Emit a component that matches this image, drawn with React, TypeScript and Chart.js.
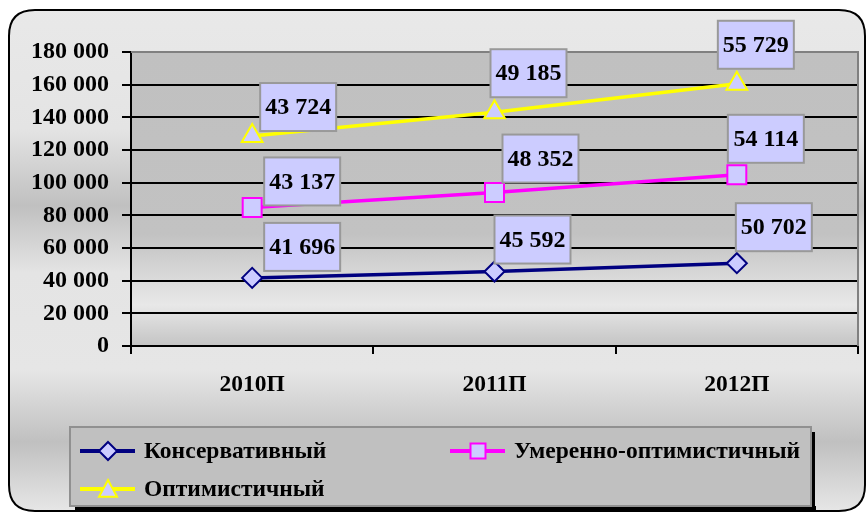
import React, { useEffect, useRef } from 'react';
import { Chart, registerables } from 'chart.js';

Chart.register(...registerables);

const categories = ['2010П', '2011П', '2012П'];
const seriesNames = ['Консервативный', 'Умеренно-оптимистичный', 'Оптимистичный'];
const conservative = [41696, 45592, 50702];
const moderate = [43137, 48352, 54114];
const optimistic = [43724, 49185, 55729];
const yMin = 0;
const yMax = 180000;
const yStep = 20000;

// label box offsets (box left relative to point x, box bottom relative to point y)
const labelOffsets = [
  [[12, -7], [0, -8], [-1, -12]],
  [[12, -2], [8, -10], [-9, -12]],
  [[8, -5], [-4, -15], [-19, -15]],
];

const FONT = '"Liberation Serif", "Times New Roman", serif';
const fmt = (n: number) => String(n).replace(/\B(?=(\d{3})+(?!\d))/g, ' ');

function markerPath(ctx: CanvasRenderingContext2D, style: string, x: number, y: number, r: number) {
  ctx.beginPath();
  if (style === 'rectRot') {
    ctx.moveTo(x, y - r);
    ctx.lineTo(x + r, y);
    ctx.lineTo(x, y + r);
    ctx.lineTo(x - r, y);
    ctx.closePath();
  } else if (style === 'rect') {
    ctx.rect(x - r, y - r, 2 * r, 2 * r);
  } else {
    ctx.moveTo(x, y - r);
    ctx.lineTo(x + r, y + r * 0.85);
    ctx.lineTo(x - r, y + r * 0.85);
    ctx.closePath();
  }
}

const bgPlugin = {
  id: 'bgPlugin',
  beforeDraw(chart: any) {
    const { ctx, chartArea, width, height } = chart;
    ctx.save();
    const g = ctx.createLinearGradient(0, 0, 0, height);
    g.addColorStop(0, '#e9e9e9');
    g.addColorStop(0.25, '#e4e4e4');
    g.addColorStop(0.4, '#c0c0c0');
    g.addColorStop(0.53, '#e4e4e4');
    g.addColorStop(0.72, '#e6e6e6');
    g.addColorStop(0.86, '#c0c0c0');
    g.addColorStop(1, '#e8e8e8');
    const x0 = 9, y0 = 10, x1 = width - 1, y1 = height - 3, r = 26;
    ctx.beginPath();
    ctx.moveTo(x0 + r, y0);
    ctx.lineTo(x1 - r, y0);
    ctx.quadraticCurveTo(x1, y0, x1, y0 + r);
    ctx.lineTo(x1, y1 - r);
    ctx.quadraticCurveTo(x1, y1, x1 - r, y1);
    ctx.lineTo(x0 + r, y1);
    ctx.quadraticCurveTo(x0, y1, x0, y1 - r);
    ctx.lineTo(x0, y0 + r);
    ctx.quadraticCurveTo(x0, y0, x0 + r, y0);
    ctx.closePath();
    ctx.fillStyle = g;
    ctx.fill();
    ctx.lineWidth = 2;
    ctx.strokeStyle = '#000';
    ctx.stroke();

    const { left, top, right, bottom } = chartArea;
    const pg = ctx.createLinearGradient(0, top, 0, bottom);
    pg.addColorStop(0, '#c0c0c0');
    pg.addColorStop(0.62, '#c2c2c2');
    pg.addColorStop(0.86, '#e8e8e8');
    pg.addColorStop(1, '#c4c4c4');
    ctx.fillStyle = pg;
    ctx.fillRect(left, top, right - left, bottom - top);
    ctx.restore();
  },
};

const overlayPlugin = {
  id: 'overlayPlugin',
  afterDatasetsDraw(chart: any) {
    const { ctx, chartArea } = chart;
    ctx.save();
    // plot border top/right
    ctx.strokeStyle = '#808080';
    ctx.lineWidth = 2;
    ctx.beginPath();
    ctx.moveTo(chartArea.left, chartArea.top);
    ctx.lineTo(chartArea.right, chartArea.top);
    ctx.lineTo(chartArea.right, chartArea.bottom);
    ctx.stroke();

    // data labels
    const W = 76, H = 48;
    chart.data.datasets.forEach((ds: any, di: number) => {
      const meta = chart.getDatasetMeta(di);
      meta.data.forEach((pt: any, i: number) => {
        const [dx, dy] = labelOffsets[di][i];
        const bx = pt.x + dx;
        const by = pt.y + dy - H;
        ctx.fillStyle = '#ccccff';
        ctx.fillRect(bx, by, W, H);
        ctx.strokeStyle = '#999999';
        ctx.lineWidth = 2;
        ctx.strokeRect(bx, by, W, H);
        ctx.fillStyle = '#000';
        ctx.font = `bold 24px ${FONT}`;
        ctx.textAlign = 'center';
        ctx.textBaseline = 'middle';
        ctx.fillText(fmt(ds.data[i]), bx + W / 2, by + H / 2 + 1);
      });
    });

    // legend
    const lx0 = 70, ly0 = 427, lx1 = 811, ly1 = 506;
    ctx.fillStyle = '#000';
    ctx.fillRect(lx0 + 5, ly1, lx1 - lx0, 4);
    ctx.fillRect(lx1, ly0 + 5, 4, ly1 - ly0 - 1);
    ctx.fillStyle = '#c0c0c0';
    ctx.fillRect(lx0, ly0, lx1 - lx0, ly1 - ly0);
    ctx.strokeStyle = '#909090';
    ctx.lineWidth = 2;
    ctx.strokeRect(lx0, ly0, lx1 - lx0, ly1 - ly0);
    const pos = [[80, 451], [450, 451], [80, 489]];
    chart.data.datasets.forEach((ds: any, di: number) => {
      const [x, y] = pos[di];
      ctx.strokeStyle = ds.borderColor;
      ctx.lineWidth = 4;
      ctx.beginPath();
      ctx.moveTo(x, y);
      ctx.lineTo(x + 55, y);
      ctx.stroke();
      markerPath(ctx, ds.pointStyle, x + 28, y, ds.pointStyle === 'rect' ? 7.5 : 9);
      ctx.fillStyle = '#ccccff';
      ctx.fill();
      ctx.lineWidth = 2;
      ctx.strokeStyle = ds.borderColor;
      ctx.stroke();
      ctx.fillStyle = '#000';
      ctx.font = `bold 23.5px ${FONT}`;
      ctx.textAlign = 'left';
      ctx.textBaseline = 'middle';
      ctx.fillText(ds.label, x + 64, y + 1);
    });
    ctx.restore();
  },
};

export default function App() {
  const ref = useRef<HTMLCanvasElement | null>(null);
  useEffect(() => {
    if (!ref.current) return;
    const mk = (label: string, data: number[], color: string, style: string, radius: number) => ({
      label,
      data,
      borderColor: color,
      backgroundColor: '#ccccff',
      borderWidth: 3.5,
      pointStyle: style,
      pointRadius: radius,
      pointBackgroundColor: '#ccccff',
      pointBorderColor: color,
      pointBorderWidth: 2,
      fill: false,
      tension: 0,
    });
    const chart = new Chart(ref.current, {
      type: 'line',
      data: {
        labels: categories,
        datasets: [
          mk(seriesNames[0], conservative, '#000080', 'rectRot', 10),
          mk(seriesNames[1], moderate, '#ff00ff', 'rect', 13.4),
          mk(seriesNames[2], optimistic, '#ffff00', 'triangle', 12),
        ],
      },
      options: {
        responsive: false,
        animation: false,
        layout: { autoPadding: false, padding: { left: 0, top: 52, right: 8, bottom: 108 } },
        plugins: { legend: { display: false }, tooltip: { enabled: false } },
        scales: {
          x: {
            offset: true,
            grid: {
              offset: true,
              drawOnChartArea: false,
              drawTicks: true,
              tickLength: 8,
              color: '#000',
              lineWidth: 2,
            },
            border: { display: true, color: '#000', width: 2 },
            ticks: {
              color: '#000',
              font: { family: FONT, size: 23.5, weight: 'bold' },
              padding: 17,
              maxRotation: 0,
            },
            afterFit(scale: any) {
              scale.height = 60;
              scale.paddingRight = 0;
              scale.paddingLeft = 0;
            },
          },
          y: {
            stacked: true,
            min: yMin,
            max: yMax,
            grid: { color: '#000', lineWidth: 2, tickLength: 9, drawTicks: true },
            border: { display: true, color: '#000', width: 2 },
            ticks: {
              stepSize: yStep,
              color: '#000',
              padding: 13,
              font: { family: FONT, size: 24, weight: 'bold' },
              callback: (v: any) => fmt(Number(v)),
            },
            afterFit(scale: any) {
              scale.width = 131;
            },
          },
        },
      },
      plugins: [bgPlugin, overlayPlugin],
    } as any);
    return () => chart.destroy();
  }, []);
  return (
    <div style={{ position: 'fixed', left: 0, top: 0, width: 866, height: 514 }}>
      <canvas ref={ref} width={866} height={514} style={{ width: 866, height: 514 }} />
    </div>
  );
}
